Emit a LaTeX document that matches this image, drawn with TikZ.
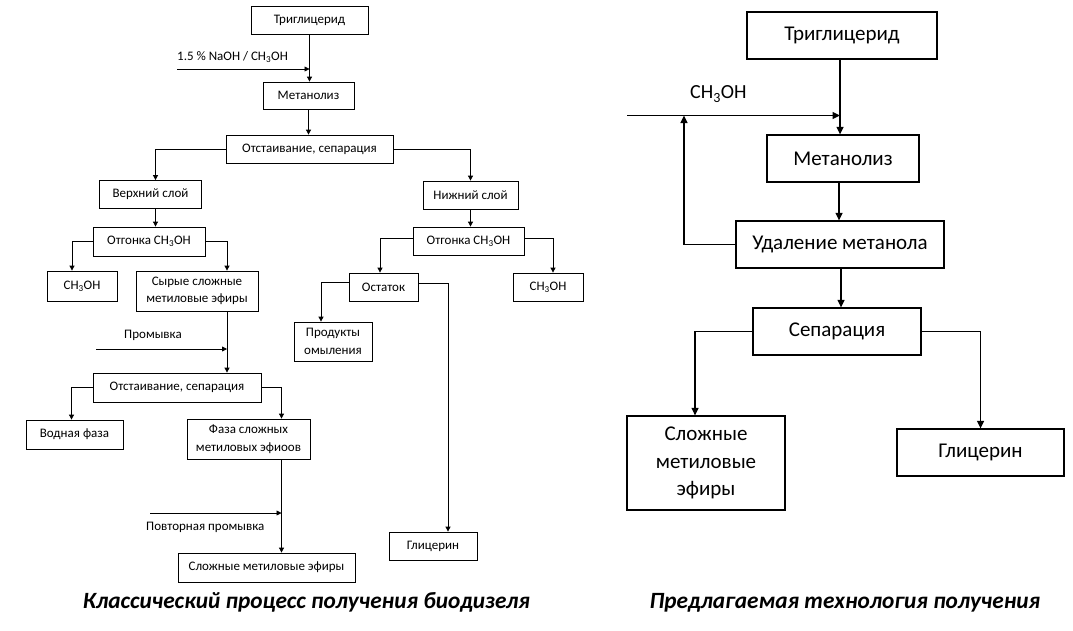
\documentclass[tikz,border=0pt]{standalone}
\usepackage{fontspec}
\setmainfont{Carlito}
\usetikzlibrary{arrows.meta,calc}
\begin{document}
\begin{tikzpicture}[x=1pt,y=-1pt,
  lbox/.style={draw,line width=0.8pt,inner sep=1pt,align=center,font=\fontsize{13}{17.5}\selectfont},
  rbox/.style={draw,line width=1.3pt,inner sep=1pt,align=center,font=\fontsize{21}{27.5}\selectfont},
  larr/.style={line width=0.8pt,-{Triangle[length=5pt,width=5pt]}},
  rarr/.style={line width=1.3pt,-{Triangle[length=7.5pt,width=7pt]}},
  lbl/.style={font=\fontsize{13}{15}\selectfont,inner sep=0pt},
  title/.style={font=\fontsize{23.3}{26}\selectfont\bfseries\itshape,inner sep=0pt}]
\useasboundingbox[fill=white] (0,0) rectangle (1073,630);
% ---------------- left diagram ----------------
\node[lbox,minimum width=117pt,minimum height=28pt] (tri1) at (309.5,20) {Триглицерид};
\node[lbox,minimum width=91pt,minimum height=27pt] (met1) at (308.5,95.5) {Метанолиз};
\node[lbox,minimum width=167pt,minimum height=28pt] (sep1) at (309.5,149) {Отстаивание, сепарация};
\node[lbox,minimum width=102pt,minimum height=28pt] (up) at (150.5,194.5) {Верхний слой};
\node[lbox,minimum width=95pt,minimum height=28pt] (low) at (470.5,195) {Нижний слой};
\node[lbox,minimum width=112pt,minimum height=29pt] (dist1) at (149,241.5) {Отгонка CH\textsubscript{3}OH};
\node[lbox,minimum width=70pt,minimum height=30pt] (me1) at (82,286) {CH\textsubscript{3}OH};
\node[lbox,minimum width=122pt,minimum height=40pt] (raw) at (197,291) {Сырые сложные\\метиловые эфиры};
\node[lbox,minimum width=168pt,minimum height=29pt] (sep2) at (177,387.5) {Отстаивание, сепарация};
\node[lbox,minimum width=97pt,minimum height=29pt] (water) at (74.5,434.5) {Водная фаза};
\node[lbox,minimum width=123pt,minimum height=40pt] (phase) at (248.5,439) {Фаза сложных\\метиловых эфиоов};
\node[lbox,minimum width=177pt,minimum height=29pt] (fame1) at (266.5,567.5) {Сложные метиловые эфиры};
\node[lbox,minimum width=111pt,minimum height=28pt] (dist2) at (468.5,241) {Отгонка CH\textsubscript{3}OH};
\node[lbox,minimum width=69pt,minimum height=28pt] (resid) at (383.5,287) {Остаток};
\node[lbox,minimum width=70pt,minimum height=28pt] (me2) at (548,287) {CH\textsubscript{3}OH};
\node[lbox,minimum width=78pt,minimum height=39pt] (soap) at (333,341.5) {Продукты\\омыления};
\node[lbox,minimum width=88pt,minimum height=28pt] (gly1) at (433,546) {Глицерин};

\coordinate (naohin) at (177,69);
\coordinate (washin) at (96,349);
\coordinate (wash2in) at (150,513);
\coordinate (upin) at ([xshift=5pt]up.north);
\coordinate (upout) at ([xshift=5pt]up.south);
\coordinate (me1in) at ([xshift=-10pt]me1.north);
\coordinate (rawin) at ([xshift=30pt]raw.north);
\coordinate (rawout) at ([xshift=30pt]raw.south);
\coordinate (waterin) at ([xshift=-3pt]water.north);
\coordinate (phasein) at ([xshift=33pt]phase.north);
\coordinate (phaseout) at ([xshift=33pt]phase.south);
\coordinate (residin) at ([xshift=-3.5pt]resid.north);
\coordinate (me2in) at ([xshift=5pt]me2.north);
\coordinate (soapin) at ([xshift=-12pt]soap.north);
\coordinate (gly1in) at ([xshift=15pt]gly1.north);

\node[lbl,anchor=west] (naohlbl) at (177,57) {1.5 \% NaOH / CH\textsubscript{3}OH};
\node[lbl] (washlbl) at (153,335) {Промывка};
\node[lbl,anchor=west] (wash2lbl) at (146,527.5) {Повторная промывка};

\draw[larr] (tri1.south) -- (tri1.south |- met1.north);
\draw[larr] (naohin) -- (naohin -| tri1.south);
\draw[larr] (met1.south) -- (met1.south |- sep1.north);
\draw[larr] (sep1.west) -| (upin);
\draw[larr] (sep1.east) -| (low.north);
\draw[larr] (upout) -- (upout |- dist1.north);
\draw[larr] (dist1.west) -| (me1in);
\draw[larr] (dist1.east) -| (rawin);
\draw[larr] (rawout) -- (rawout |- sep2.north);
\draw[larr] (washin) -- (washin -| rawout);
\draw[larr] (sep2.west) -| (waterin);
\draw[larr] (sep2.east) -| (phasein);
\draw[larr] (phaseout) -- (phaseout |- fame1.north);
\draw[larr] (wash2in) -- (wash2in -| phaseout);
\draw[larr] (low.south) -- (low.south |- dist2.north);
\draw[larr] ([yshift=3pt]dist2.west) -| (residin);
\draw[larr] ([yshift=3pt]dist2.east) -| (me2in);
\draw[larr] ([yshift=4.5pt]resid.west) -| (soapin);
\draw[larr] ([yshift=4pt]resid.east) -| (gly1in);

\node[title] (t1) at (306.5,602) {Классический процесс получения биодизеля};

% ---------------- right diagram ----------------
\node[rbox,minimum width=190pt,minimum height=47pt] (tri2) at (842,35.5) {Триглицерид};
\node[rbox,minimum width=152pt,minimum height=47pt] (met2) at (843,158.5) {Метанолиз};
\node[rbox,minimum width=208pt,minimum height=47pt] (rem) at (840,244.5) {Удаление метанола};
\node[rbox,minimum width=168pt,minimum height=47pt] (sepR) at (837,331.5) {Сепарация};
\node[rbox,minimum width=158pt,minimum height=94pt] (fameR) at (706,463) {Сложные\\метиловые\\эфиры};
\node[rbox,minimum width=167pt,minimum height=47pt] (glyR) at (980.5,452.5) {Глицерин};

\coordinate (mein) at (627,115.5);
\coordinate (loop) at (684,115.5);
\coordinate (tri2out) at ([xshift=-2pt]tri2.south);
\coordinate (met2out) at ([xshift=-4pt]met2.south);
\coordinate (remout) at ([xshift=1pt]rem.south);
\coordinate (fameRin) at ([xshift=-11pt]fameR.north);
\node[font=\fontsize{20}{22}\selectfont,inner sep=0pt,anchor=west] (melbl) at (690,94) {CH\textsubscript{3}OH};

\draw[rarr] (tri2out) -- (tri2out |- met2.north);
\draw[rarr] (mein) -- (mein -| tri2out);
\draw[rarr] (rem.west) -| (loop);
\draw[rarr] (met2out) -- (met2out |- rem.north);
\draw[rarr] (remout) -- (remout |- sepR.north);
\draw[rarr] (sepR.west) -| (fameRin);
\draw[rarr] (sepR.east) -| (glyR.north);

\node[title] (t2) at (845,603) {Предлагаемая технология получения};
\end{tikzpicture}
\end{document}
